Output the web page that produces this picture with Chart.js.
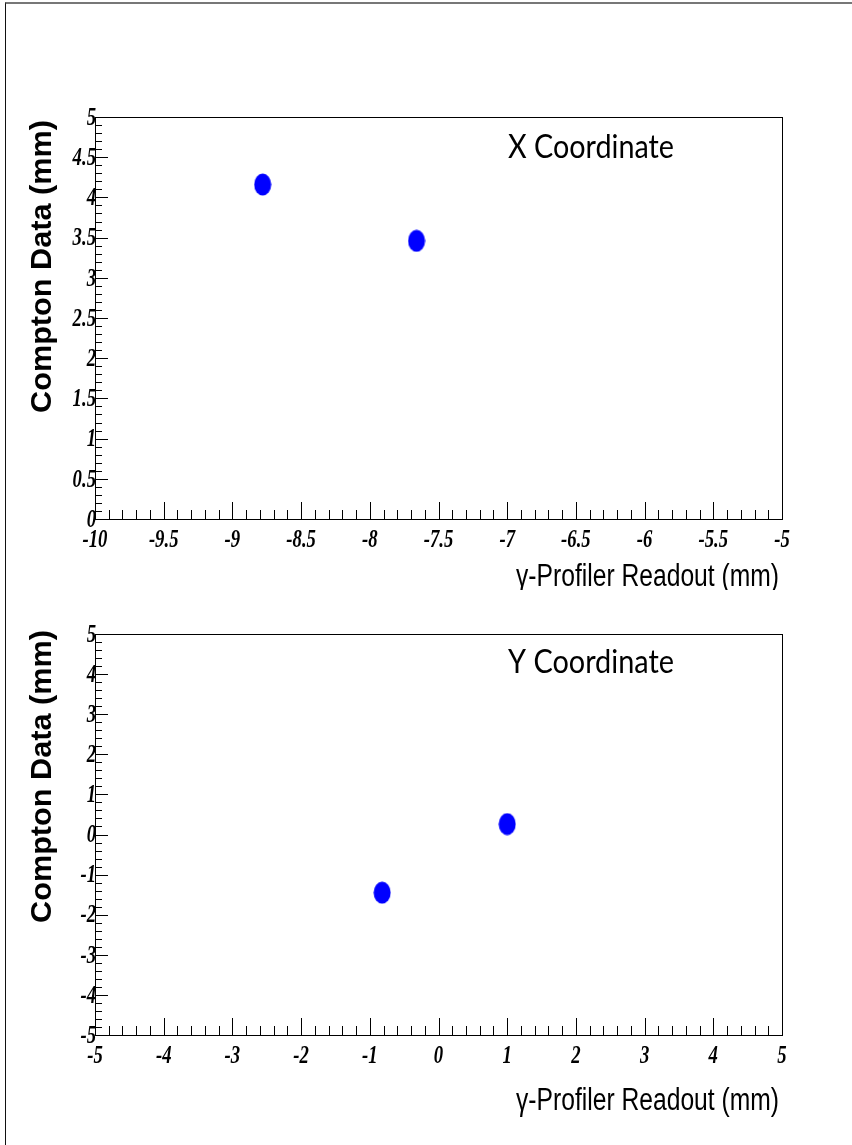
<!DOCTYPE html>
<html>
<head>
<meta charset="utf-8">
<title>Compton data vs gamma-profiler readout</title>
<script src="https://cdn.jsdelivr.net/npm/chart.js@4.4.0/dist/chart.umd.min.js"></script>
<style>
  html, body { margin: 0; padding: 0; background: #fff; }
  #page { position: relative; width: 852px; height: 1145px; overflow: hidden; }
  #frame { position: absolute; left: 5px; top: 2px; width: 900px; height: 1200px;
           border-left: 1px solid #111; border-top: 2px solid #777; }
  canvas { position: absolute; left: 0; }
</style>
</head>
<body>
<div id="page">
  <div id="frame"></div>
  <canvas id="chartX" width="852" height="590" style="top:0"></canvas>
  <canvas id="chartY" width="852" height="555" style="top:590px"></canvas>
</div>
<script>
// measured positions (mm)
const xProfiler = [-8.78, -7.66];
const xCompton  = [4.16, 3.46];
const yProfiler = [-0.82, 1.0];
const yCompton  = [-1.45, 0.26];

// axis ticks
const xTopTicks   = [-10, -9.5, -9, -8.5, -8, -7.5, -7, -6.5, -6, -5.5, -5];
const xTopLabels  = ['-10', '-9.5', '-9', '-8.5', '-8', '-7.5', '-7', '-6.5', '-6', '-5.5', '-5'];
const yTopTicks   = [0, 0.5, 1, 1.5, 2, 2.5, 3, 3.5, 4, 4.5, 5];
const yTopLabels  = ['0', '0.5', '1', '1.5', '2', '2.5', '3', '3.5', '4', '4.5', '5'];
const xBotTicks   = [-5, -4, -3, -2, -1, 0, 1, 2, 3, 4, 5];
const xBotLabels  = ['-5', '-4', '-3', '-2', '-1', '0', '1', '2', '3', '4', '5'];
const yBotTicks   = [-5, -4, -3, -2, -1, 0, 1, 2, 3, 4, 5];
const yBotLabels  = ['-5', '-4', '-3', '-2', '-1', '0', '1', '2', '3', '4', '5'];

const xTitle = '\u03b3-Profiler Readout (mm)';
const yTitle = 'Compton Data (mm)';

// filled blue ellipse marker
function ellipseMarker() {
  const c = document.createElement('canvas');
  c.width = 18; c.height = 23;
  const g = c.getContext('2d');
  g.fillStyle = '#0000ff';
  g.beginPath();
  g.ellipse(9, 11.5, 8.5, 11, 0, 0, Math.PI * 2);
  g.fill();
  return c;
}
const marker = ellipseMarker();

function squeezed(ctx, text, x, y, font, align, sx, fitWidth) {
  ctx.save();
  ctx.font = font;
  if (fitWidth) sx = fitWidth / ctx.measureText(text).width;
  ctx.translate(x, y);
  ctx.scale(sx, 1);
  ctx.textAlign = align;
  ctx.fillText(text, 0, 0);
  ctx.restore();
}

const tickFont = 'bold italic 26px "Liberation Serif"';
const tickSqueeze = 0.72;

// frame, ticks and labels in the old-style physics plot look
function axesPlugin(o) {
  return {
    id: 'physAxes',
    afterDraw(chart) {
      const ctx = chart.ctx, a = chart.chartArea;
      const sx = chart.scales.x, sy = chart.scales.y;
      ctx.save();
      ctx.strokeStyle = '#000';
      ctx.lineWidth = 1;
      ctx.strokeRect(a.left + 0.5, a.top + 0.5, a.right - a.left, a.bottom - a.top);

      ctx.beginPath();
      // x ticks
      for (let i = 0; i < o.xTicks.length; i++) {
        const v = o.xTicks[i];
        const px = Math.round(sx.getPixelForValue(v)) + 0.5;
        ctx.moveTo(px, a.bottom); ctx.lineTo(px, a.bottom - 17);
        if (i < o.xTicks.length - 1) {
          const step = (o.xTicks[i + 1] - v) / o.xMinor;
          for (let k = 1; k < o.xMinor; k++) {
            const m = Math.round(sx.getPixelForValue(v + k * step)) + 0.5;
            ctx.moveTo(m, a.bottom); ctx.lineTo(m, a.bottom - 9);
          }
        }
      }
      // y ticks
      for (let i = 0; i < o.yTicks.length; i++) {
        const v = o.yTicks[i];
        const py = Math.round(sy.getPixelForValue(v)) + 0.5;
        ctx.moveTo(a.left, py); ctx.lineTo(a.left + 13, py);
        if (i < o.yTicks.length - 1) {
          const step = (o.yTicks[i + 1] - v) / o.yMinor;
          for (let k = 1; k < o.yMinor; k++) {
            const m = Math.round(sy.getPixelForValue(v + k * step)) + 0.5;
            ctx.moveTo(a.left, m); ctx.lineTo(a.left + 7, m);
          }
        }
      }
      ctx.stroke();

      ctx.fillStyle = '#000';
      ctx.textBaseline = 'middle';
      o.xTicks.forEach((v, i) => {
        squeezed(ctx, o.xLabels[i], sx.getPixelForValue(v), a.bottom + 21, tickFont, 'center', tickSqueeze);
      });
      o.yTicks.forEach((v, i) => {
        squeezed(ctx, o.yLabels[i], a.left + 1, sy.getPixelForValue(v) + 1, tickFont, 'right', tickSqueeze);
      });

      // axis titles
      ctx.textBaseline = 'alphabetic';
      squeezed(ctx, xTitle, 779, o.xTitleY, '31px "Liberation Sans"', 'right', 1, 263);
      ctx.save();
      ctx.translate(43, o.yTitleTop);
      ctx.rotate(-Math.PI / 2);
      ctx.textBaseline = 'middle';
      squeezed(ctx, yTitle, 0, 0, 'bold 29px "Liberation Sans"', 'right', 1, 293);
      ctx.restore();

      // panel label
      squeezed(ctx, o.label, 508, o.labelY, '33px Lato', 'left', 1, 166);
      ctx.restore();
    }
  };
}

function makeChart(id, xs, ys, xmin, xmax, ymin, ymax, padding, deco) {
  return new Chart(document.getElementById(id), {
    type: 'scatter',
    data: {
      datasets: [{
        data: xs.map((x, i) => ({ x: x, y: ys[i] })),
        pointStyle: marker,
        pointRadius: 10,
        backgroundColor: '#0000ff'
      }]
    },
    options: {
      responsive: false,
      animation: false,
      devicePixelRatio: 1,
      layout: { padding: padding },
      plugins: { legend: { display: false }, tooltip: { enabled: false } },
      scales: {
        x: { type: 'linear', min: xmin, max: xmax, display: false },
        y: { type: 'linear', min: ymin, max: ymax, display: false }
      }
    },
    plugins: [axesPlugin(deco)]
  });
}

makeChart('chartX', xProfiler, xCompton, -10, -5, 0, 5,
  { left: 95, top: 117, right: 70, bottom: 71 },
  { xTicks: xTopTicks, xLabels: xTopLabels, xMinor: 5,
    yTicks: yTopTicks, yLabels: yTopLabels, yMinor: 5,
    xTitleY: 586, yTitleTop: 120, label: 'X Coordinate', labelY: 158 });

makeChart('chartY', yProfiler, yCompton, -5, 5, -5, 5,
  { left: 95, top: 44, right: 70, bottom: 110 },
  { xTicks: xBotTicks, xLabels: xBotLabels, xMinor: 5,
    yTicks: yBotTicks, yLabels: yBotLabels, yMinor: 5,
    xTitleY: 520, yTitleTop: 40, label: 'Y Coordinate', labelY: 83 });
</script>
</body>
</html>
